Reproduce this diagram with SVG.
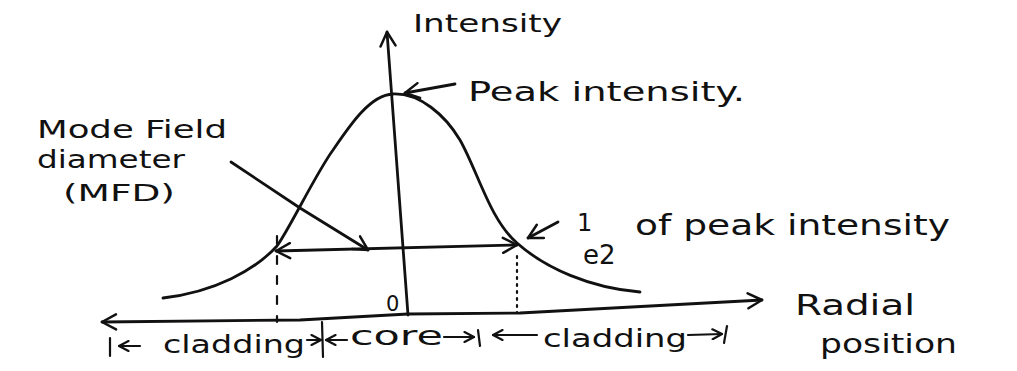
<svg xmlns="http://www.w3.org/2000/svg" width="1017" height="371" viewBox="0 0 1017 371">
<defs>
<style>
.t{font-family:"DejaVu Sans","Liberation Sans",sans-serif;fill:#111;}
.ln{fill:none;stroke:#111;stroke-width:2.8;stroke-linecap:round;stroke-linejoin:round;}
.thin{fill:none;stroke:#111;stroke-width:2.2;stroke-linecap:round;}
.ax{marker-end:url(#ah);}
.ax2{marker-start:url(#ah);marker-end:url(#ah);}
.sm{marker-end:url(#as);}
</style>
<marker id="ah" viewBox="0 0 18 18" refX="16" refY="9" markerWidth="18" markerHeight="18" markerUnits="userSpaceOnUse" orient="auto-start-reverse">
<path d="M2,1.5 L16,9 L2,16.5" fill="none" stroke="#111" stroke-width="2.5" stroke-linecap="round" stroke-linejoin="round"/>
</marker>
<marker id="as" viewBox="0 0 12 12" refX="11" refY="6" markerWidth="12" markerHeight="12" markerUnits="userSpaceOnUse" orient="auto-start-reverse">
<path d="M1.5,1 L11,6 L1.5,11" fill="none" stroke="#111" stroke-width="2.2" stroke-linecap="round" stroke-linejoin="round"/>
</marker>
</defs>
<rect width="1017" height="371" fill="#fff"/>

<g id="curve">
<path class="ln" d="M163,298 C215,292 255,270 277,246 C290,228 315,175 333,150 C350,125 370,95 393,94 C420,93 445,115 460,140 C478,172 490,220 517,243 C545,268 590,288 640,292"/>
</g>

<g id="connectors">
<path class="ln ax" d="M408,315 L387,32"/>
<path class="ln ax2" d="M102,322 L300,320 L408,314 L520,313 L762,300"/>
<path class="ln ax2" d="M276,251 L517,245"/>
<path class="ln ax" d="M231,162 L300,208 L368,250"/>
<path class="ln ax" d="M455,84 L405,93"/>
<path class="ln ax" d="M558,222 L528,238"/>
<path class="thin" d="M277,236 L277,322" stroke-dasharray="8 12"/>
<path class="thin" d="M517,256 L517,313" stroke-dasharray="2 5"/>
<path class="thin" d="M110,338 L110,356"/>
<path class="thin sm" d="M140,346 L119,346"/>
<path class="thin sm" d="M307,340 L321,340"/>
<path class="thin" d="M322,322 L323,357"/>
<path class="thin sm" d="M347,340 L326,340"/>
<path class="thin sm" d="M444,337 L474,337"/>
<path class="thin" d="M478,330 L480,346"/>
<path class="thin sm" d="M537,335 L493,335"/>
<path class="thin sm" d="M688,335 L722,334"/>
<path class="thin" d="M727,326 L724,343"/>
</g>

<g id="label-intensity"><text class="t" x="413" y="32" font-size="24" textLength="149" lengthAdjust="spacingAndGlyphs">Intensity</text></g>
<g id="label-peak"><text class="t" x="468" y="101" font-size="27" textLength="277" lengthAdjust="spacingAndGlyphs">Peak intensity.</text></g>
<g id="label-mfd">
<text class="t" x="37" y="138" font-size="24" textLength="190" lengthAdjust="spacingAndGlyphs">Mode Field</text>
<text class="t" x="37" y="168" font-size="24" textLength="148" lengthAdjust="spacingAndGlyphs">diameter</text>
<text class="t" x="63" y="201" font-size="23" textLength="112" lengthAdjust="spacingAndGlyphs">(MFD)</text>
</g>
<g id="label-e2">
<text class="t" x="577" y="231" font-size="24">1</text>
<text class="t" x="583" y="264" font-size="26">e2</text>
<text class="t" x="635" y="235" font-size="28" textLength="315" lengthAdjust="spacingAndGlyphs">of peak intensity</text>
</g>
<g id="label-origin"><text class="t" x="386" y="311" font-size="21">0</text></g>
<g id="label-radial">
<text class="t" x="795" y="315" font-size="28" textLength="120" lengthAdjust="spacingAndGlyphs">Radial</text>
<text class="t" x="820" y="353" font-size="26" textLength="137" lengthAdjust="spacingAndGlyphs">position</text>
</g>
<g id="label-cladding-left"><text class="t" x="163" y="353" font-size="25" textLength="142" lengthAdjust="spacingAndGlyphs">cladding</text></g>
<g id="label-core"><text class="t" x="350" y="345" font-size="26" textLength="93" lengthAdjust="spacingAndGlyphs">core</text></g>
<g id="label-cladding-right"><text class="t" x="543" y="347" font-size="25" textLength="144" lengthAdjust="spacingAndGlyphs">cladding</text></g>
</svg>
